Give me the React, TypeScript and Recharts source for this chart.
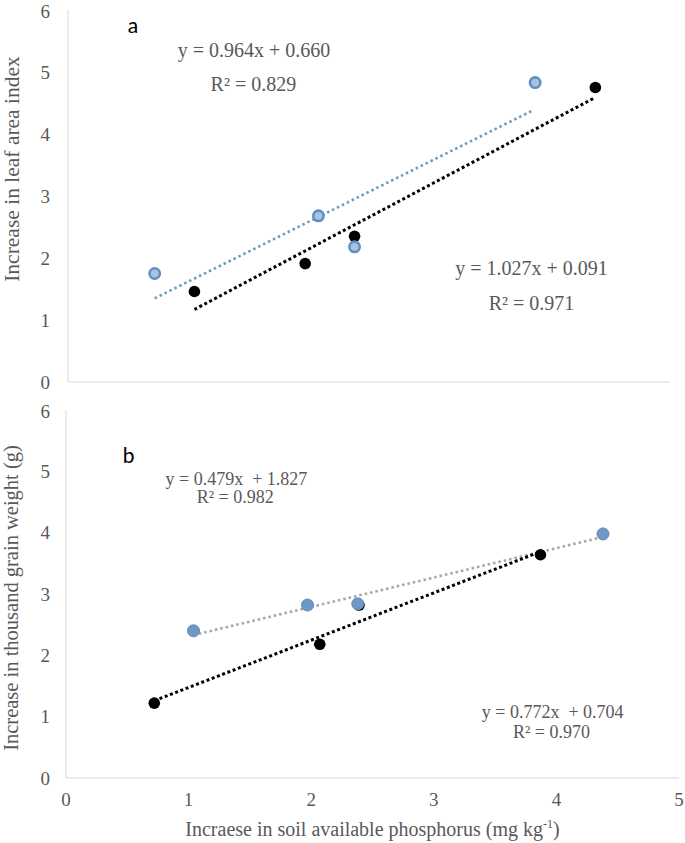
import React from 'react';
import { ComposedChart, Scatter, Line, XAxis, YAxis, ReferenceDot } from 'recharts';

const xTicks = [0, 1, 2, 3, 4, 5];
const yTicks = [0, 1, 2, 3, 4, 5, 6];

// Panel a: leaf area index
const laiBlue = [
  { x: 0.72, y: 1.75 },
  { x: 2.08, y: 2.68 },
  { x: 2.38, y: 2.18 },
  { x: 3.88, y: 4.83 },
];
const laiBlack = [
  { x: 1.05, y: 1.46 },
  { x: 1.97, y: 1.91 },
  { x: 2.38, y: 2.35 },
  { x: 4.38, y: 4.75 },
];
const laiBlueTrend = [
  { x: 0.72, y: 1.35 },
  { x: 3.86, y: 4.38 },
];
const laiBlackTrend = [
  { x: 1.05, y: 1.17 },
  { x: 4.38, y: 4.59 },
];

// Panel b: thousand grain weight
const tgwBlue = [
  { x: 1.04, y: 2.4 },
  { x: 1.97, y: 2.82 },
  { x: 2.38, y: 2.84 },
  { x: 4.38, y: 3.98 },
];
const tgwBlack = [
  { x: 0.72, y: 1.22 },
  { x: 2.07, y: 2.18 },
  { x: 2.39, y: 2.82 },
  { x: 3.87, y: 3.64 },
];
const tgwBlueTrend = [
  { x: 1.04, y: 2.33 },
  { x: 4.38, y: 3.93 },
];
const tgwBlackTrend = [
  { x: 0.72, y: 1.26 },
  { x: 3.87, y: 3.69 },
];

const notesA = [
  { x: 0.54, y: 5.63, text: 'a', panel: true, size: 21 },
  { x: 1.545, y: 5.24, text: 'y = 0.964x + 0.660', panel: false, size: 20 },
  { x: 1.54, y: 4.69, text: 'R² = 0.829', panel: false, size: 20 },
  { x: 3.85, y: 1.73, text: 'y = 1.027x + 0.091', panel: false, size: 20 },
  { x: 3.85, y: 1.16, text: 'R² = 0.971', panel: false, size: 20 },
];
const notesB = [
  { x: 0.51, y: 5.14, text: 'b', panel: true, size: 21 },
  { x: 1.39, y: 4.78, text: 'y = 0.479x  + 1.827', panel: false, size: 18 },
  { x: 1.38, y: 4.48, text: 'R² = 0.982', panel: false, size: 18 },
  { x: 3.97, y: 0.98, text: 'y = 0.772x  + 0.704', panel: false, size: 18 },
  { x: 3.96, y: 0.65, text: 'R² = 0.970', panel: false, size: 18 },
];

const SERIF = '"Liberation Serif", "Times New Roman", serif';
const GRAY = '#595959';
const AXIS = '#d9d9d9';

const tickStyle = { fontFamily: SERIF, fontSize: 19, fill: GRAY };

const ringDot = (p: any) => (
  <circle cx={p.cx} cy={p.cy} r={5.2} fill="#a9c3de" stroke="#5f8fc3" strokeWidth={2.6} />
);
const blueDot = (p: any) => (
  <circle cx={p.cx} cy={p.cy} r={6} fill="#7098c6" stroke="#6189b8" strokeWidth={1} />
);
const blackDot = (p: any) => <circle cx={p.cx} cy={p.cy} r={5.8} fill="#000" />;

const noteShape = (n: any) => (p: any) => (
  <text
    x={p.cx}
    y={p.cy}
    textAnchor="middle"
    style={{ whiteSpace: 'pre' }}
    fontFamily={n.panel ? 'Lato, "Open Sans", sans-serif' : SERIF}
    fontSize={n.size}
    fill={n.panel ? '#000' : GRAY}
  >
    {n.text}
  </text>
);

const yTitle = (text: string, baseX: number, offY: number, size: number) => (p: any) => {
  const vb = p.viewBox;
  const x = vb.x + baseX;
  const y = vb.y + vb.height / 2 + offY;
  return (
    <text
      x={x}
      y={y}
      transform={`rotate(-90, ${x}, ${y})`}
      textAnchor="middle"
      fontFamily={SERIF}
      fontSize={size}
      fill={GRAY}
    >
      {text}
    </text>
  );
};

const xTitle = (p: any) => {
  const vb = p.viewBox;
  return (
    <text
      x={vb.x + vb.width / 2}
      y={vb.y + 58}
      textAnchor="middle"
      fontFamily={SERIF}
      fontSize={20}
      fill={GRAY}
    >
      Incraese in soil available phosphorus (mg kg
      <tspan fontSize={12} dy={-8}>-1</tspan>
      <tspan dy={8}>)</tspan>
    </text>
  );
};

export default function App() {
  return (
    <div style={{ position: 'absolute', left: 0, top: 0, width: 685, height: 843, background: '#fff' }}>
      <div style={{ position: 'absolute', left: 0, top: 0 }}>
        <ComposedChart width={685} height={400} margin={{ top: 10, right: 15, bottom: 0, left: 0 }}>
          <XAxis
            type="number"
            dataKey="x"
            domain={[0, 5]}
            ticks={xTicks}
            height={18}
            tick={false}
            tickSize={6}
            tickLine={{ stroke: AXIS }}
            axisLine={{ stroke: AXIS }}
            allowDataOverflow
          />
          <YAxis
            type="number"
            dataKey="y"
            domain={[0, 6]}
            ticks={yTicks}
            width={68}
            tickSize={0}
            tickMargin={18}
            tickLine={false}
            axisLine={{ stroke: AXIS }}
            tick={tickStyle}
            allowDataOverflow
            label={{ content: yTitle('Increase in leaf area index', 19, -27, 21.5) }}
          />
          <Line data={laiBlueTrend} dataKey="y" stroke="#6f9bb5" strokeWidth={2.6} strokeDasharray="2.5 3" dot={false} isAnimationActive={false} />
          <Line data={laiBlackTrend} dataKey="y" stroke="#000" strokeWidth={3} strokeDasharray="3 2.6" dot={false} isAnimationActive={false} />
          <Scatter data={laiBlack} dataKey="y" shape={blackDot} isAnimationActive={false} />
          <Scatter data={laiBlue} dataKey="y" shape={ringDot} isAnimationActive={false} />
          {notesA.map((n, i) => (
            <ReferenceDot key={i} x={n.x} y={n.y} r={0} shape={noteShape(n)} />
          ))}
        </ComposedChart>
      </div>
      <div style={{ position: 'absolute', left: 0, top: 400 }}>
        <ComposedChart width={685} height={443} margin={{ top: 10, right: 6, bottom: 0, left: 0 }}>
          <XAxis
            type="number"
            dataKey="x"
            domain={[0, 5]}
            ticks={xTicks}
            height={65}
            tickSize={0}
            tickMargin={15}
            tickLine={false}
            axisLine={{ stroke: AXIS }}
            tick={tickStyle}
            allowDataOverflow
            label={{ content: xTitle }}
          />
          <YAxis
            type="number"
            dataKey="y"
            domain={[0, 6]}
            ticks={yTicks}
            width={66}
            tickSize={0}
            tickMargin={16}
            tickLine={false}
            axisLine={{ stroke: AXIS }}
            tick={tickStyle}
            allowDataOverflow
            label={{ content: yTitle('Increase in thousand grain weight (g)', 18, 4, 20.5) }}
          />
          <Line data={tgwBlueTrend} dataKey="y" stroke="#a6a6a6" strokeWidth={2.6} strokeDasharray="2.5 3" dot={false} isAnimationActive={false} />
          <Line data={tgwBlackTrend} dataKey="y" stroke="#000" strokeWidth={3} strokeDasharray="3 2.6" dot={false} isAnimationActive={false} />
          <Scatter data={tgwBlack} dataKey="y" shape={blackDot} isAnimationActive={false} />
          <Scatter data={tgwBlue} dataKey="y" shape={blueDot} isAnimationActive={false} />
          {notesB.map((n, i) => (
            <ReferenceDot key={i} x={n.x} y={n.y} r={0} shape={noteShape(n)} />
          ))}
        </ComposedChart>
      </div>
    </div>
  );
}
